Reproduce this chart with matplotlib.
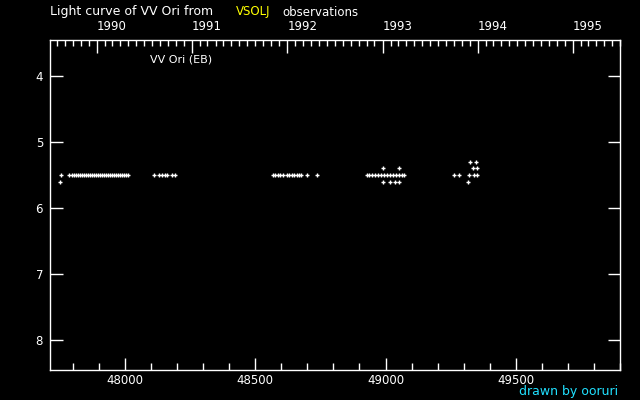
import matplotlib
matplotlib.use("Agg")
import matplotlib.pyplot as plt
from matplotlib.ticker import FixedLocator, MultipleLocator
import pandas as pd

# Observations: JD - 2400000 and visual magnitude
jd = [47750, 47754, 47785, 47796, 47804, 47812, 47819, 47827, 47835, 47842, 47850,
      47858, 47866, 47873, 47881, 47889, 47896, 47904, 47912, 47919, 47927,
      47935, 47942, 47950, 47958, 47966, 47973, 47981, 47989, 47996, 48004, 48012,
      48110, 48131, 48142, 48154, 48161, 48179, 48191,
      48567, 48576, 48586, 48595, 48605, 48621, 48631, 48641, 48650, 48660,
      48668, 48677, 48699, 48737,
      48928, 48937, 48947, 48959, 48970, 48982, 48993, 49005, 49016, 49028,
      49039, 49051, 49062, 49070,
      48991, 49052,
      48991, 49019, 49037, 49052,
      49325, 49348, 49336, 49352,
      49263, 49283, 49321, 49340, 49352, 49317]
mag = [5.6, 5.5, 5.5, 5.5, 5.5, 5.5, 5.5, 5.5, 5.5, 5.5, 5.5,
       5.5, 5.5, 5.5, 5.5, 5.5, 5.5, 5.5, 5.5, 5.5, 5.5,
       5.5, 5.5, 5.5, 5.5, 5.5, 5.5, 5.5, 5.5, 5.5, 5.5, 5.5,
       5.5, 5.5, 5.5, 5.5, 5.5, 5.5, 5.5,
       5.5, 5.5, 5.5, 5.5, 5.5, 5.5, 5.5, 5.5, 5.5, 5.5,
       5.5, 5.5, 5.5, 5.5,
       5.5, 5.5, 5.5, 5.5, 5.5, 5.5, 5.5, 5.5, 5.5, 5.5,
       5.5, 5.5, 5.5, 5.5,
       5.4, 5.4,
       5.6, 5.6, 5.6, 5.6,
       5.3, 5.3, 5.4, 5.4,
       5.5, 5.5, 5.5, 5.5, 5.5, 5.6]

x_ticks = [48000, 48500, 49000, 49500]
y_ticks = [4, 5, 6, 7, 8]
years = [1990, 1991, 1992, 1993, 1994, 1995]

def to_mjd(y, m=1):
    return pd.Timestamp(year=y, month=m, day=1).to_julian_date() - 2400000

fig = plt.figure(figsize=(6.4, 4.0), dpi=100, facecolor="black")
ax = fig.add_axes([50/640, 1-370/400, 570/640, 330/400], facecolor="black")
ax.plot(jd, mag, linestyle="none", marker="+", color="white", ms=3.5, mew=1)
ax.set_xlim(47712, 49900)
ax.set_ylim(8.455, 3.455)
for s in ax.spines.values():
    s.set_color("white")
    s.set_linewidth(1)
ax.xaxis.set_major_locator(FixedLocator(x_ticks))
ax.xaxis.set_minor_locator(MultipleLocator(100))
ax.yaxis.set_major_locator(FixedLocator(y_ticks))
ax.set_yticklabels([str(v) for v in y_ticks])
ax.tick_params(axis="both", which="both", direction="in", colors="white",
               labelsize=8.5, width=1)
ax.tick_params(axis="x", which="major", length=9, pad=3, top=False)
ax.tick_params(axis="x", which="minor", length=5, top=False)
ax.tick_params(axis="y", which="major", length=9, pad=5, right=True)
ax.tick_params(axis="y", which="minor", left=False, right=False)

# top axis: calendar years
top = ax.secondary_xaxis("top")
top.spines["top"].set_visible(False)
year_pos = [to_mjd(y) for y in years]
month_pos = [to_mjd(y, m) for y in range(1989, 1996) for m in range(1, 13)]
top.xaxis.set_major_locator(FixedLocator(year_pos))
top.xaxis.set_minor_locator(FixedLocator(month_pos))
top.tick_params(which="major", direction="in", length=9, width=1, colors="white",
                labeltop=False)
top.tick_params(which="minor", direction="in", length=4, width=1, colors="white")
for y, p in zip(years, year_pos):
    ax.text(p, 1.022, str(y), transform=ax.get_xaxis_transform(), ha="left",
            va="bottom", color="white", fontsize=8.5)

fig.text(50/640, 1-12/400, "Light curve of VV Ori from", color="white",
         fontsize=9, va="center", ha="left")
fig.text(236/640, 1-12/400, "VSOLJ", color="#ffff00", fontsize=8.5,
         va="center", ha="left")
fig.text(282/640, 1-12/400, "observations", color="white", fontsize=8.5,
         va="center", ha="left")
fig.text(150/640, 1-60/400, "VV Ori (EB)", color="white", fontsize=8,
         va="center", ha="left")
fig.text(618/640, 1-391/400, "drawn by ooruri", color="#20e0ff", fontsize=9,
         va="center", ha="right")

fig.savefig("out.png", dpi=100, facecolor="black")
